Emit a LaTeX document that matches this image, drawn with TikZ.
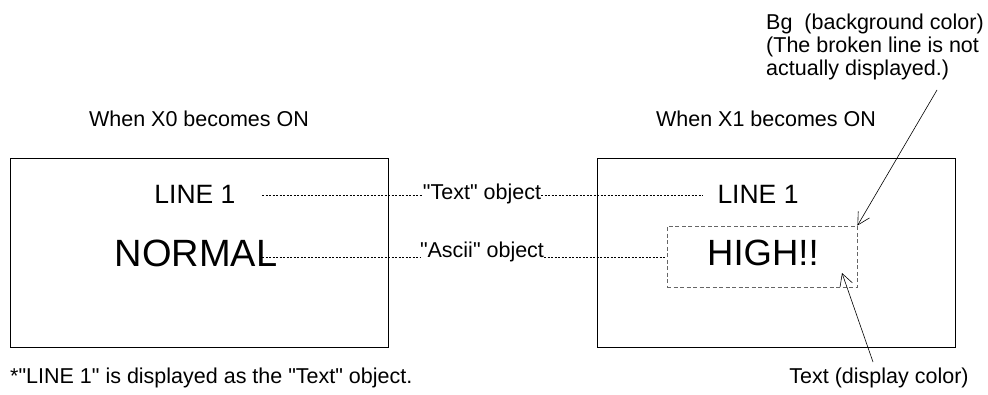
\documentclass[tikz,border=0pt]{standalone}
\usepackage{fontspec}
\setmainfont{Liberation Sans}
\usetikzlibrary{arrows.meta}
\newcommand{\dq}{\textquotedbl}
\begin{document}
\begin{tikzpicture}[x=1pt,y=-1pt,
  screen/.style={draw=black,line width=0.8pt},
  lbl/.style={inner sep=0pt,font=\fontsize{21.5}{23}\selectfont},
  dotline/.style={line width=0.6pt,dash pattern=on 2pt off 1.5pt},
  bgbox/.style={draw=black!60,line width=0.9pt,dash pattern=on 4pt off 2.5pt},
  callout/.style={line width=0.6pt,-{Straight Barb[length=12pt,width=13pt]}}]
\useasboundingbox (0,0) rectangle (988,394);
% screens
\draw[screen] (10,158) rectangle (388,347);
\draw[screen] (597,158) rectangle (955,347);
% titles
\node[lbl] (t0) at (199,119) {When X0 becomes ON};
\node[lbl] (t1) at (766,119) {When X1 becomes ON};
% screen contents
\node[lbl,font=\fontsize{26.5}{28}\selectfont] (line1L) at (195,194) {LINE 1};
\node[lbl,font=\fontsize{38}{40}\selectfont] (normal) at (196,253) {NORMAL};
\node[lbl,font=\fontsize{26.5}{28}\selectfont] (line1R) at (758,194) {LINE 1};
\node[bgbox,minimum width=190pt,minimum height=61pt,inner sep=0pt] (hbox) at (762,256.5) {};
\node[lbl,font=\fontsize{36.5}{38}\selectfont] (high) at (763,253) {HIGH!!};
% middle labels
\node[lbl] (textobj) at (482,194) {\dq Text\dq{} object};
\node[lbl] (asciiobj) at (482,252) {\dq Ascii\dq{} object};
% dotted leaders
\coordinate (l1a) at (262,195);
\coordinate (nma) at (262,257);
\draw[dotline] (l1a) -- (l1a -| textobj.west);
\draw[dotline] (textobj.east |- l1a) -- ([xshift=-15pt]line1R.west |- l1a);
\draw[dotline] (nma) -- (nma -| asciiobj.west);
\draw[dotline] (asciiobj.east |- nma) -- (nma -| hbox.west);
% callouts
\node[lbl,anchor=north west,align=left] (bgtext) at (766,14)
  {Bg~ (background color)\\(The broken line is not\\actually displayed.)};
\coordinate (bgstart) at (937,90);
\draw[callout] (bgstart) -- (hbox.north east);
\node[lbl] (textdc) at (879,378) {Text (display color)};
\coordinate (tdstart) at (873,362);
\coordinate (tdtip) at (842,273);
\draw[callout] (tdstart) -- (tdtip);
% footnote
\node[lbl,anchor=west] (foot) at (10,378) {*\dq LINE 1\dq{} is displayed as the \dq Text\dq{} object.};
\end{tikzpicture}
\end{document}
